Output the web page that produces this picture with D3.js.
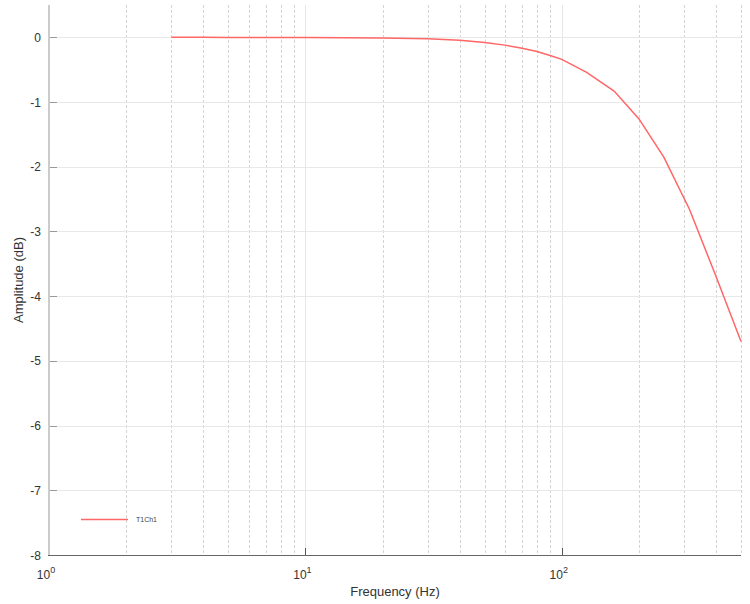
<!DOCTYPE html>
<html>
<head>
<meta charset="utf-8">
<script src="https://cdn.jsdelivr.net/npm/d3@7"></script>
<style>
  body { margin: 0; background: #fff; }
  svg { font-family: "Liberation Sans", Arial, sans-serif; }
</style>
</head>
<body>
<svg id="chart" width="750" height="604"></svg>
<script>
// frequency points (Hz) and amplitude (dB)
const freqs = [3, 4, 5, 6, 7, 8, 9, 10, 20, 30, 40, 50, 60, 70, 80, 90, 100, 125, 160, 200, 250, 315, 400, 500];
const ampDb = [0, 0, -0.001, -0.001, -0.002, -0.002, -0.003, -0.003, -0.01, -0.022, -0.045, -0.08, -0.12, -0.17, -0.22, -0.28, -0.34, -0.54, -0.83, -1.26, -1.85, -2.66, -3.70, -4.70];
const seriesName = "T1Ch1";
const yTicks = [0, -1, -2, -3, -4, -5, -6, -7, -8];
const decades = [1, 10, 100];

const margin = { left: 49, right: 9, top: 5, bottom: 49 };
const width = 750, height = 604;

const svg = d3.select("#chart");

const x = d3.scaleLog()
    .domain([1, 500])
    .range([margin.left, width - margin.right]);
const y = d3.scaleLinear()
    .domain([-8, 0.5])
    .range([height - margin.bottom, margin.top]);

const grid = svg.append("g");

// minor vertical grid (dashed)
const minorTicks = x.ticks().filter((t) => !decades.includes(t) && t <= 500);
grid.selectAll("line.minor")
    .data(minorTicks)
    .join("line")
    .attr("class", "minor")
    .attr("x1", (d) => Math.round(x(d)) + 0.5)
    .attr("x2", (d) => Math.round(x(d)) + 0.5)
    .attr("y1", y(0.5))
    .attr("y2", y(-8))
    .style("stroke", "#d4d4d4")
    .style("stroke-dasharray", "3,2")
    .style("stroke-width", 1);

// decade vertical grid (solid)
grid.selectAll("line.major")
    .data(decades.slice(1))
    .join("line")
    .attr("class", "major")
    .attr("x1", (d) => Math.round(x(d)) + 0.5)
    .attr("x2", (d) => Math.round(x(d)) + 0.5)
    .attr("y1", y(0.5))
    .attr("y2", y(-8))
    .style("stroke", "#e6e6e6")
    .style("stroke-width", 1);

// horizontal grid
grid.selectAll("line.h")
    .data(yTicks.slice(0, -1))
    .join("line")
    .attr("class", "h")
    .attr("x1", x(1))
    .attr("x2", x(500))
    .attr("y1", (d) => Math.round(y(d)) + 0.5)
    .attr("y2", (d) => Math.round(y(d)) + 0.5)
    .style("stroke", "#e8e8e8")
    .style("stroke-width", 1);

// left axis
const yAxis = svg.append("g");
yAxis.append("line")
    .attr("x1", x(1))
    .attr("x2", x(1))
    .attr("y1", y(0.5))
    .attr("y2", y(-8))
    .style("stroke", "#cccccc")
    .style("stroke-width", 2);
yAxis.selectAll("line.tick")
    .data(yTicks.slice(0, -1))
    .join("line")
    .attr("class", "tick")
    .attr("x1", x(1) + 1)
    .attr("x2", x(1) + 8)
    .attr("y1", (d) => Math.round(y(d)) + 0.5)
    .attr("y2", (d) => Math.round(y(d)) + 0.5)
    .style("stroke", "#999");
yAxis.selectAll("text")
    .data(yTicks)
    .join("text")
    .attr("x", 41)
    .attr("y", (d) => y(d) + 4.5)
    .attr("text-anchor", "end")
    .style("font-size", "12px")
    .style("fill", "#333")
    .text((d) => d);

// bottom axis
const xAxis = svg.append("g");
xAxis.append("line")
    .attr("x1", x(1) - 1)
    .attr("x2", x(500))
    .attr("y1", Math.round(y(-8)) + 0.5)
    .attr("y2", Math.round(y(-8)) + 0.5)
    .style("stroke", "#666")
    .style("stroke-width", 1);
xAxis.selectAll("line.tick")
    .data(decades.slice(1))
    .join("line")
    .attr("class", "tick")
    .attr("x1", (d) => Math.round(x(d)) + 0.5)
    .attr("x2", (d) => Math.round(x(d)) + 0.5)
    .attr("y1", y(-8))
    .attr("y2", y(-8) - 7)
    .style("stroke", "#555");
const xLabels = xAxis.selectAll("text")
    .data(decades)
    .join("text")
    .attr("x", (d) => x(d) - 3)
    .attr("y", 579)
    .attr("text-anchor", "middle")
    .style("font-size", "12px")
    .style("fill", "#333");
xLabels.append("tspan").text("10");
xLabels.append("tspan")
    .attr("dy", -6)
    .style("font-size", "9px")
    .text((d) => Math.round(Math.log10(d)));

// axis titles
svg.append("text")
    .attr("x", 395)
    .attr("y", 596)
    .attr("text-anchor", "middle")
    .style("font-size", "13px")
    .style("fill", "#333")
    .text("Frequency (Hz)");
svg.append("text")
    .attr("transform", "translate(23,280) rotate(-90)")
    .attr("text-anchor", "middle")
    .style("font-size", "13px")
    .style("fill", "#333")
    .text("Amplitude (dB)");

// data line
const data = freqs.map((f, i) => ({ f: f, v: ampDb[i] }));
const line = d3.line()
    .x((d) => x(d.f))
    .y((d) => y(d.v));
svg.append("path")
    .datum(data)
    .attr("d", line)
    .attr("fill", "none")
    .style("stroke", "#ff6666")
    .style("stroke-width", 1.5);

// legend
const legend = svg.append("g").attr("transform", "translate(81,519.5)");
legend.append("line")
    .attr("x1", 0)
    .attr("x2", 47)
    .style("stroke", "#ff6666")
    .style("stroke-width", 1.5);
legend.append("text")
    .attr("x", 55)
    .attr("y", 2.5)
    .style("font-size", "7px")
    .style("fill", "#444")
    .text(seriesName);
</script>
</body>
</html>
